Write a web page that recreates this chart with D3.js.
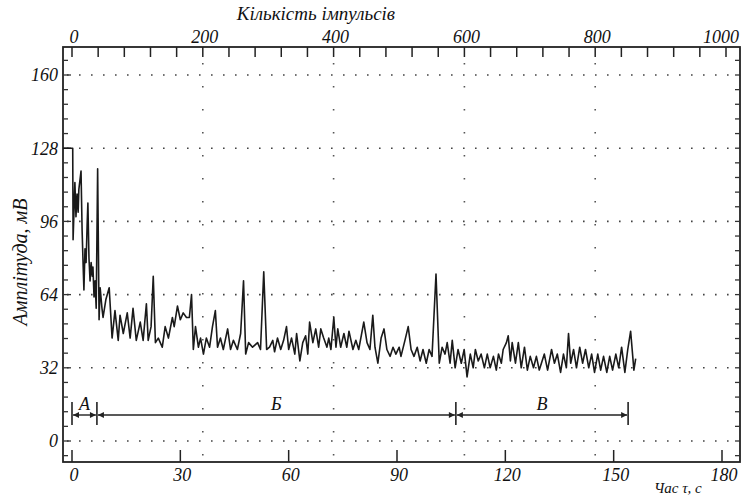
<!DOCTYPE html>
<html>
<head>
<meta charset="utf-8">
<script src="https://cdn.jsdelivr.net/npm/d3@7"></script>
<style>
  html, body { margin: 0; padding: 0; background: #fff; }
  svg { display: block; }
  text { font-family: "Liberation Serif", "DejaVu Serif", serif; font-style: italic; fill: #111; }
</style>
</head>
<body>
<div id="chart"></div>
<script>
// Tick labels of the three axes
const amplitudeTicks = [0, 32, 64, 96, 128, 160]
const timeTicks = [0, 30, 60, 90, 120, 150, 180]
const pulseTicks = [0, 200, 400, 600, 800, 1000]
const pulseGrid = [200, 400, 600, 800]

// Recorded amplitude: [time, s ; amplitude, mV]
const samples = [
  [-2.5, 128], [0.2, 128], [0.3, 88], [0.8, 113], [1.1, 98], [1.4, 108], [1.7, 100], [1.9, 110],
  [2.5, 118], [2.8, 92], [3.1, 76], [3.3, 66], [3.6, 84], [3.9, 78], [4.2, 95], [4.4, 104],
  [4.7, 80], [5.0, 70], [5.3, 78], [5.6, 72], [5.8, 76], [6.1, 63], [6.4, 70], [6.7, 58],
  [7.1, 119], [7.5, 53], [7.8, 67], [8.3, 58], [8.6, 54], [9.4, 62], [10.3, 67], [11.1, 45],
  [11.9, 57], [12.8, 44], [13.3, 55], [14.2, 47], [15.3, 56], [16.1, 45], [16.9, 58], [17.8, 44],
  [18.9, 52], [19.7, 44], [20.6, 60], [21.1, 44], [21.9, 50], [22.5, 72], [23.1, 43], [23.9, 45],
  [25.0, 41], [25.8, 50], [26.7, 45], [27.8, 54], [28.3, 50], [29.2, 59], [30.0, 53], [30.8, 56],
  [31.7, 54], [32.5, 54], [33.1, 64], [33.6, 40], [34.2, 50], [35.0, 41], [35.6, 45], [36.4, 38],
  [37.2, 45], [38.1, 41], [38.9, 50], [39.7, 57], [40.3, 41], [41.1, 45], [41.9, 40], [43.1, 49],
  [43.9, 40], [44.7, 44], [45.8, 40], [46.7, 47], [47.5, 70], [48.1, 38], [48.9, 43], [50.0, 41],
  [51.4, 43], [52.2, 40], [53.1, 74], [53.9, 40], [54.7, 41], [55.6, 44], [56.1, 39], [56.9, 45],
  [57.8, 40], [58.6, 44], [59.4, 50], [60.0, 40], [60.8, 45], [61.7, 38], [62.2, 47], [63.1, 35],
  [63.9, 43], [64.7, 46], [65.3, 38], [65.8, 52], [66.7, 43], [67.5, 49], [68.3, 41], [68.9, 49],
  [69.7, 45], [70.6, 41], [71.1, 45], [71.7, 40], [72.5, 54], [73.1, 41], [73.6, 49], [74.4, 41],
  [75.3, 47], [76.1, 41], [76.7, 48], [77.8, 40], [78.6, 44], [79.4, 40], [80.8, 52], [81.7, 43],
  [82.5, 40], [83.3, 55], [83.9, 41], [84.7, 34], [85.6, 45], [86.4, 49], [87.2, 40], [88.1, 37],
  [88.9, 41], [89.7, 38], [90.6, 41], [91.1, 37], [92.2, 44], [93.1, 50], [93.9, 40], [94.7, 37],
  [95.6, 41], [96.4, 35], [97.2, 40], [98.1, 34], [98.9, 40], [99.7, 37], [100.8, 73], [101.7, 34],
  [102.5, 41], [103.3, 38], [103.9, 43], [104.7, 34], [105.3, 44], [106.1, 32], [106.9, 40], [107.8, 34],
  [108.6, 40], [109.4, 28], [110.3, 38], [111.1, 32], [111.7, 40], [112.5, 35], [113.3, 38], [114.2, 32],
  [115.0, 38], [115.8, 32], [116.7, 37], [117.5, 31], [118.1, 38], [118.9, 34], [119.4, 40], [120.3, 43],
  [120.8, 46], [121.4, 35], [121.9, 43], [122.8, 34], [123.6, 43], [124.4, 32], [125.3, 41], [126.1, 31],
  [126.9, 37], [127.8, 32], [128.6, 37], [129.4, 31], [130.8, 38], [131.7, 31], [132.8, 40], [133.6, 34],
  [134.4, 38], [135.3, 30], [136.1, 38], [136.9, 32], [137.5, 47], [138.1, 34], [138.9, 40], [139.7, 32],
  [140.6, 41], [141.4, 34], [142.2, 40], [143.1, 32], [143.9, 38], [144.7, 30], [145.6, 38], [146.4, 31],
  [147.2, 37], [148.1, 30], [148.9, 37], [149.7, 31], [150.6, 38], [151.4, 32], [152.2, 41], [153.1, 30],
  [153.9, 40], [154.7, 48], [155.6, 31], [156.1, 36]
]

// Stages marked under the curve (s)
const phaseLabels = ['A', 'Б', 'В']
const phaseBounds = [0, 6.9, 106.3, 154]

;(() => {
  const WIDTH = 742
  const HEIGHT = 497
  const FRAME = { left: 63, right: 740, top: 47, bottom: 462 }

  const svg = d3.select('#chart')
    .append('svg')
    .attr('width', WIDTH)
    .attr('height', HEIGHT)

  const x = d3.scaleLinear().domain([0, 180]).range([72, 722])
  const xPulse = d3.scaleLinear().domain([0, 1000]).range([72, 726])
  const y = d3.scaleLinear().domain([0, 160]).range([441, 75])

  // dotted grid
  svg.append('g')
    .selectAll('line')
    .data(amplitudeTicks)
    .join('line')
    .attr('x1', FRAME.left + 4).attr('x2', FRAME.right)
    .attr('y1', d => y(d)).attr('y2', d => y(d))
    .attr('stroke', '#444')
    .attr('stroke-width', 1.6)
    .attr('stroke-dasharray', '1.6,10.4')

  svg.append('g')
    .selectAll('line')
    .data(pulseGrid)
    .join('line')
    .attr('x1', d => xPulse(d)).attr('x2', d => xPulse(d))
    .attr('y1', FRAME.top + 16).attr('y2', FRAME.bottom - 4)
    .attr('stroke', '#555')
    .attr('stroke-width', 1.6)
    .attr('stroke-dasharray', '1.6,21.4')

  // frame
  svg.append('rect')
    .attr('x', FRAME.left).attr('y', FRAME.top)
    .attr('width', FRAME.right - FRAME.left)
    .attr('height', FRAME.bottom - FRAME.top)
    .attr('fill', 'none')
    .attr('stroke', '#222')
    .attr('stroke-width', 1.8)

  // left + right ticks (minor every 6.4 mV)
  const minor = d3.range(-1, 27).map(i => i * 6.4)
  svg.append('g')
    .selectAll('line')
    .data(minor)
    .join('line')
    .attr('x1', FRAME.left).attr('x2', d => FRAME.left + (amplitudeTicks.includes(d) ? 8 : 5))
    .attr('y1', d => y(d)).attr('y2', d => y(d))
    .attr('stroke', '#333').attr('stroke-width', 1.3)
  svg.append('g')
    .selectAll('line')
    .data(minor)
    .join('line')
    .attr('x1', FRAME.right).attr('x2', FRAME.right - 5)
    .attr('y1', d => y(d)).attr('y2', d => y(d))
    .attr('stroke', '#333').attr('stroke-width', 1.3)

  svg.append('g')
    .selectAll('text')
    .data(amplitudeTicks)
    .join('text')
    .attr('x', 58)
    .attr('y', d => y(d))
    .attr('dy', '0.35em')
    .attr('text-anchor', 'end')
    .attr('font-size', 18)
    .text(d => d)

  // bottom axis (time)
  svg.append('g')
    .selectAll('line')
    .data(timeTicks)
    .join('line')
    .attr('x1', d => x(d)).attr('x2', d => x(d))
    .attr('y1', FRAME.bottom).attr('y2', FRAME.bottom - 12)
    .attr('stroke', '#222').attr('stroke-width', 1.5)

  svg.append('g')
    .selectAll('text')
    .data(timeTicks)
    .join('text')
    .attr('x', d => x(d) + 2)
    .attr('y', 481)
    .attr('text-anchor', 'middle')
    .attr('font-size', 18)
    .text(d => d)

  // top axis (pulse count), ticks every 40
  svg.append('g')
    .selectAll('line')
    .data(d3.range(0, 1001, 40))
    .join('line')
    .attr('x1', d => xPulse(d)).attr('x2', d => xPulse(d))
    .attr('y1', FRAME.top).attr('y2', FRAME.top + 10)
    .attr('stroke', '#222').attr('stroke-width', 1.5)

  svg.append('g')
    .selectAll('text')
    .data(pulseTicks)
    .join('text')
    .attr('x', d => Math.min(xPulse(d) + 2, 721))
    .attr('y', 43)
    .attr('text-anchor', 'middle')
    .attr('font-size', 18)
    .text(d => d)

  // axis titles
  svg.append('text')
    .attr('x', 316).attr('y', 20)
    .attr('text-anchor', 'middle')
    .attr('font-size', 19)
    .text('Кількість імпульсів')

  svg.append('text')
    .attr('transform', 'translate(27, 262) rotate(-90)')
    .attr('text-anchor', 'middle')
    .attr('font-size', 20)
    .text('Амплітуда, мВ')

  svg.append('text')
    .attr('x', 654).attr('y', 493)
    .attr('font-size', 15)
    .text('Час τ, с')

  // stage markers
  const defs = svg.append('defs')
  defs.append('marker')
    .attr('id', 'arrow')
    .attr('viewBox', '0 0 10 10')
    .attr('refX', 10).attr('refY', 5)
    .attr('markerWidth', 10).attr('markerHeight', 6)
    .attr('markerUnits', 'userSpaceOnUse')
    .attr('orient', 'auto-start-reverse')
    .append('path')
    .attr('d', 'M0,0L10,5L0,10Z')
    .attr('fill', '#222')

  const phaseY = 415
  const phases = svg.append('g')
  phases.selectAll('line.bar')
    .data(phaseBounds)
    .join('line')
    .classed('bar', true)
    .attr('x1', d => x(d)).attr('x2', d => x(d))
    .attr('y1', 402).attr('y2', 425)
    .attr('stroke', '#222').attr('stroke-width', 1.6)

  phases.selectAll('line.span')
    .data(phaseLabels)
    .join('line')
    .classed('span', true)
    .attr('x1', (d, i) => x(phaseBounds[i]) + 1)
    .attr('x2', (d, i) => x(phaseBounds[i + 1]) - 1)
    .attr('y1', phaseY).attr('y2', phaseY)
    .attr('stroke', '#222').attr('stroke-width', 1.4)
    .attr('marker-start', 'url(#arrow)')
    .attr('marker-end', 'url(#arrow)')

  phases.selectAll('text')
    .data(phaseLabels)
    .join('text')
    .attr('x', (d, i) => (x(phaseBounds[i]) + x(phaseBounds[i + 1])) / 2)
    .attr('y', 410)
    .attr('text-anchor', 'middle')
    .attr('font-size', 18)
    .text(d => d)

  // the recorded curve
  const lineGen = d3.line()
    .x(d => x(d[0]))
    .y(d => y(d[1]))

  svg.append('path')
    .datum(samples)
    .attr('d', lineGen)
    .attr('fill', 'none')
    .attr('stroke', '#1a1a1a')
    .attr('stroke-width', 1.6)
    .attr('stroke-linejoin', 'round')
})()
</script>
</body>
</html>
